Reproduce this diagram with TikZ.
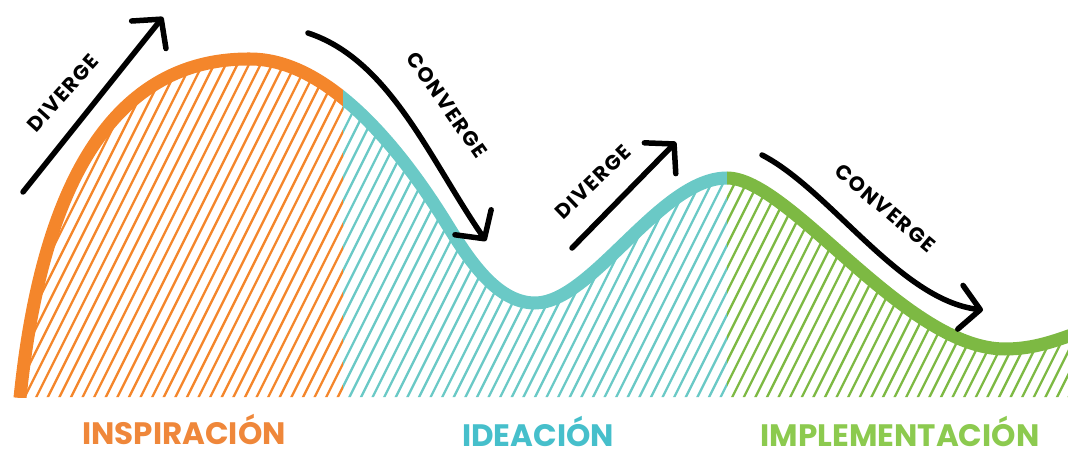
\documentclass[tikz,border=0pt]{standalone}
\usepackage{fontspec}
\setmainfont{Poppins}
\usetikzlibrary{arrows.meta}
\definecolor{orn}{HTML}{F4862B}
\definecolor{tea}{HTML}{6AC9C6}
\definecolor{grn}{HTML}{7DB943}
\definecolor{ornT}{HTML}{EF873A}
\definecolor{teaT}{HTML}{46BFCB}
\definecolor{grnT}{HTML}{8CCA4F}
\begin{document}
\begin{tikzpicture}[x=1pt,y=-1pt,
  arr/.style={line width=5.5pt, line cap=round, line join=round, -{Straight Barb[round,length=20pt,width=44pt]}},
  lbl/.style={font=\bfseries\fontsize{20.5}{20.5}\selectfont\addfontfeatures{LetterSpace=7}, inner sep=0pt},
  phase/.style={font=\bfseries\fontsize{31}{31}\selectfont, inner sep=0pt, anchor=base},
  hatchline/.style={line width=2.3pt},
  wave/.style={line width=13pt}]
\useasboundingbox (0,0) rectangle (1068,449);
\clip (0,0) rectangle (1068,449);
% hatching under the wave
\begin{scope}
  \clip (20,398) .. controls (40,200) and (105,58) .. (250,59)
        .. controls (330,59) and (402.6,153) .. (445,221)
        .. controls (466,255) and (495,303) .. (535,303)
        .. controls (592,303) and (660,178) .. (727,178)
        .. controls (790,178) and (905,349) .. (1005,349)
        .. controls (1035,349) and (1057,340) .. (1080,332)
        -- (1080,397) -- (15,397) -- cycle;
  \foreach \c/\a/\b in {orn/-10/343, tea/343/727, grn/727/1080} {
    \begin{scope}
      \clip (\a,-10) rectangle (\b,460);
      \foreach \i in {-20,...,95} \draw[hatchline,\c] (\i*11.6,400) -- (\i*11.6+200,0);
    \end{scope}
  }
\end{scope}
% the wave
\foreach \c/\a/\b in {orn/-10/343, tea/343/727, grn/727/1080} {
  \begin{scope}
    \clip (\a,-10) rectangle (\b,397.5);
    \draw[wave,\c] (20,398) .. controls (40,200) and (105,58) .. (250,59)
        .. controls (330,59) and (402.6,153) .. (445,221)
        .. controls (466,255) and (495,303) .. (535,303)
        .. controls (592,303) and (660,178) .. (727,178)
        .. controls (790,178) and (905,349) .. (1005,349)
        .. controls (1035,349) and (1057,340) .. (1080,332);
  \end{scope}
}
% arrows
\coordinate (a1s) at (23,192);
\coordinate (a1e) at (163,17);
\draw[arr] (a1s) -- (a1e);
\coordinate (a2s) at (308,33);
\coordinate (a2e) at (486,241);
\draw[arr] (a2s) .. controls (390,60) and (430,160) .. (a2e);
\coordinate (a3s) at (572,248);
\coordinate (a3e) at (676,142);
\draw[arr] (a3s) -- (a3e);
\coordinate (a4s) at (762,155);
\coordinate (a4e) at (983,310);
\draw[arr] (a4s) .. controls (830,190) and (900,300) .. (a4e);
% arrow labels
\node[lbl, rotate=48] (dv1) at (63,93) {DIVERGE};
\node[lbl, rotate=-55] (cv1) at (447,105) {CONVERGE};
\node[lbl, rotate=44] (dv2) at (593,182) {DIVERGE};
\node[lbl, rotate=-40] (cv2) at (885,208) {CONVERGE};
% phase labels
\node[phase, ornT] (insp) at (184,444) {INSPIRACIÓN};
\node[phase, teaT] (idea) at (538,446) {IDEACIÓN};
\node[phase, grnT] (impl) at (900,446) {IMPLEMENTACIÓN};
\end{tikzpicture}
\end{document}
